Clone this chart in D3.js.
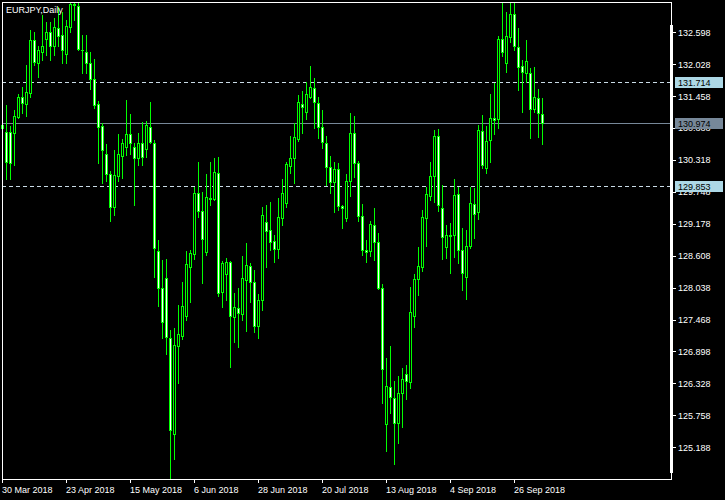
<!DOCTYPE html>
<html><head><meta charset="utf-8">
<script src="https://cdn.jsdelivr.net/npm/d3@7"></script>
<style>html,body{margin:0;padding:0;background:#000;}svg{display:block}</style>
</head><body>
<svg id="c" width="725" height="500"></svg>
<script>
const chartTitle = "EURJPY,Daily";
const firstDate = "2018-03-30";
const opens = [130.889,130.818,130.818,130.800,131.086,131.443,131.318,131.514,132.461,132.050,
132.246,132.478,132.603,132.354,132.675,132.550,132.211,132.693,133.104,133.068,
132.282,132.246,132.050,131.764,131.318,130.925,130.425,130.068,129.479,130.032,
130.389,130.550,130.782,130.550,130.354,130.621,130.514,130.907,130.621,128.693,
128.032,128.211,127.139,125.425,126.996,127.175,127.532,128.407,128.639,129.729,
129.407,128.675,129.639,129.621,130.086,127.961,128.282,128.496,127.514,127.675,
127.568,128.175,128.425,128.139,127.354,127.818,129.211,129.068,128.871,128.729,
129.282,129.550,130.211,130.354,130.693,131.318,131.175,131.443,131.603,131.335,
130.907,130.621,130.193,129.925,130.157,129.496,129.282,129.943,130.800,130.264,
129.318,128.711,128.693,129.157,128.854,128.032,125.604,126.264,126.068,125.621,
126.157,126.496,126.354,127.532,128.193,128.407,129.282,129.675,130.032,130.746,
129.461,128.764,128.979,128.979,129.711,128.711,128.229,128.782,129.532,129.389,
130.836,130.175,130.675,131.068,131.050,132.478,132.050,132.514,132.925,132.336,
131.996,131.871,131.871,131.229,131.425,131.139];
const highs = [131.068,131.300,130.925,131.211,131.497,131.621,132.015,132.639,132.603,132.354,
132.907,132.782,132.782,132.853,133.050,132.960,132.818,133.139,133.139,133.121,
132.550,132.550,132.246,132.121,131.371,130.979,130.604,130.121,130.496,130.782,
130.693,131.389,131.139,130.621,130.800,130.996,131.014,131.354,130.675,128.889,
128.532,128.550,127.282,127.318,127.729,128.139,128.693,128.711,129.836,130.282,
129.746,130.068,130.282,130.354,130.371,128.514,128.568,128.514,127.943,128.032,
128.604,128.836,128.479,128.354,127.925,129.479,129.514,129.568,128.979,129.639,
129.978,130.282,130.746,130.979,131.479,131.550,131.711,131.996,131.782,131.443,
131.211,130.746,130.389,130.282,130.264,129.514,130.068,131.157,131.104,130.300,
129.532,128.889,129.228,129.461,129.014,128.104,126.782,126.996,126.371,126.461,
126.604,126.657,128.050,128.282,128.764,129.425,129.836,130.282,130.854,130.871,
129.871,129.157,129.193,129.978,129.836,129.104,129.068,129.836,129.818,130.943,
131.121,130.925,131.497,131.693,132.532,133.139,132.960,133.121,133.139,132.675,
132.104,132.461,131.961,131.979,131.585,131.425];
const lows = [130.800,129.978,129.978,130.229,131.068,131.157,131.104,131.443,132.015,131.800,
132.104,132.193,132.104,132.193,132.354,132.050,132.050,132.603,132.818,132.282,
131.871,131.871,131.585,131.246,130.264,129.907,129.943,129.228,129.336,129.943,
129.996,130.407,130.425,129.514,130.229,130.229,130.371,130.621,128.229,127.711,
127.139,126.854,124.621,124.979,126.336,127.121,127.461,127.782,128.550,129.300,
128.121,128.621,129.514,129.604,127.889,127.693,127.818,126.621,127.068,126.979,
127.461,127.264,127.782,127.246,127.139,127.639,128.407,128.711,128.496,128.568,
129.157,129.479,130.086,129.907,130.657,130.800,131.050,131.425,130.889,130.711,
130.532,129.871,129.729,129.389,129.425,129.104,129.228,129.675,130.014,129.228,
128.621,128.496,128.604,128.532,128.014,125.979,125.121,125.800,124.889,125.264,
125.550,126.050,126.246,127.336,127.907,128.336,128.782,129.604,129.568,129.407,
128.550,128.568,128.300,128.586,128.479,127.996,127.836,128.746,128.925,129.264,
130.175,130.086,130.282,130.782,130.889,132.175,131.889,132.425,132.282,131.568,
131.175,131.711,130.711,131.175,130.729,130.604];
const closes = [130.943,130.282,130.264,131.104,131.443,131.335,131.532,132.461,132.068,132.282,
132.354,132.603,132.354,132.693,132.532,132.282,132.711,133.104,133.086,132.300,
132.275,132.050,131.764,131.300,130.907,130.496,130.068,129.479,130.050,130.425,
130.621,130.782,130.621,130.354,130.621,130.371,130.943,130.639,128.746,128.032,
127.425,127.157,125.496,127.014,127.211,127.711,128.461,128.657,129.729,129.407,
128.907,129.657,129.621,130.104,127.943,128.479,128.496,127.532,127.693,127.586,
128.211,128.443,128.139,127.354,127.818,129.336,129.050,128.854,128.729,129.300,
129.729,130.246,130.354,130.729,131.354,131.264,131.497,131.621,131.354,130.907,
130.639,130.193,129.925,130.157,129.496,129.461,129.943,130.800,130.264,129.318,
128.711,128.675,129.175,128.854,128.032,126.586,126.282,126.086,125.621,126.157,
126.407,126.371,127.604,128.193,128.425,129.300,129.711,130.032,130.746,129.514,
128.943,128.979,128.961,129.693,128.711,128.300,128.782,129.550,129.354,130.854,
130.229,130.657,131.068,131.032,132.478,132.246,132.532,132.925,132.354,131.979,
131.889,132.086,131.229,131.443,131.157,130.974];
const priceTicks = [125.188,125.758,126.328,126.898,127.468,128.038,128.608,129.178,129.748,130.318,130.888,131.458,132.028,132.598];
const dateTickLabels = ["30 Mar 2018","23 Apr 2018","15 May 2018","6 Jun 2018","28 Jun 2018","20 Jul 2018","13 Aug 2018","4 Sep 2018","26 Sep 2018"];
const levelValues = [131.714, 130.974, 129.853];

const svg = d3.select("#c");
const W = 725, H = 500;
const L = 2, R = 671, T = 2, B = 479;
const FONT = "Liberation Sans, Arial, sans-serif";
svg.append("rect").attr("width", W).attr("height", H).attr("fill", "#000");

// trading days (weekdays) starting at firstDate
const n = opens.length;
const fmtKey = d3.timeFormat("%Y-%m-%d");
const dates = [];
let d = d3.timeParse("%Y-%m-%d")(firstDate);
while (dates.length < n) {
  const wd = d.getDay();
  if (wd !== 0 && wd !== 6) dates.push(fmtKey(d));
  d = d3.timeDay.offset(d, 1);
}
const data = dates.map((k, i) => ({key: k, o: opens[i], h: highs[i], l: lows[i], c: closes[i]}));

const x = d3.scalePoint().domain(dates).range([L, L + 4 * (n - 1)]);
const y = d3.scaleLinear().domain([124.621, 133.139]).range([B, T]);

const g = svg.append("g").attr("shape-rendering", "crispEdges");
const lime = "#00ff00";

// level lines
levelValues.forEach((v, i) => {
  const yy = Math.round(y(v)) + 0.5;
  g.append("line").attr("x1", L).attr("x2", R).attr("y1", yy).attr("y2", yy)
    .attr("stroke", i === 1 ? "#778899" : "#c9dbe6").attr("stroke-width", 1)
    .attr("stroke-dasharray", i === 1 ? null : "4,3");
});

// candles
const cg = g.append("g");
data.forEach(b => {
  const cx = Math.round(x(b.key));
  const yh = Math.round(y(b.h)), yl = Math.round(y(b.l));
  cg.append("rect").attr("x", cx).attr("y", yh).attr("width", 1).attr("height", Math.max(1, yl - yh + 1)).attr("fill", lime);
  const top = Math.round(y(Math.max(b.o, b.c))), bot = Math.round(y(Math.min(b.o, b.c)));
  cg.append("rect").attr("x", cx - 1).attr("y", top).attr("width", 3).attr("height", bot - top + 1).attr("fill", lime);
  if (bot - top >= 2) {
    cg.append("rect").attr("x", cx).attr("y", top + 1).attr("width", 1).attr("height", bot - top - 1)
      .attr("fill", b.c < b.o ? "#ffffff" : "#000000");
  }
});

// frame
g.append("rect").attr("x", L + 0.5).attr("y", T + 0.5).attr("width", R - L).attr("height", B - T)
  .attr("fill", "none").attr("stroke", "#fff").attr("stroke-width", 1);
g.append("rect").attr("x", R - 1).attr("y", 25).attr("width", 3).attr("height", 448).attr("fill", "#fff");

// y axis
const yAxis = d3.axisRight(y).tickValues(priceTicks).tickFormat(d3.format(".3f")).tickSize(4).tickPadding(2);
const ya = svg.append("g").attr("transform", `translate(${R + 1},0)`).call(yAxis);
ya.select(".domain").remove();
ya.selectAll(".tick line").attr("stroke", "#fff").attr("shape-rendering", "crispEdges");
ya.selectAll(".tick text").attr("fill", "#fff").attr("font-family", FONT).attr("font-size", "9px");

// level boxes
levelValues.forEach((v, i) => {
  const yy = Math.round(y(v));
  svg.append("rect").attr("x", 675).attr("y", yy - 5).attr("width", 48).attr("height", 11)
    .attr("fill", i === 1 ? "#778899" : "#add8e6").attr("shape-rendering", "crispEdges");
  svg.append("text").attr("x", 678).attr("y", yy + 3.5).attr("fill", "#000")
    .attr("font-family", FONT).attr("font-size", "9px").text(d3.format(".3f")(v));
});

// x axis ticks and labels
const parseLbl = d3.timeParse("%d %b %Y");
dateTickLabels.forEach(lbl => {
  const k = fmtKey(parseLbl(lbl));
  const cx = Math.round(x(k));
  svg.append("line").attr("x1", cx + 0.5).attr("x2", cx + 0.5).attr("y1", B).attr("y2", B + 4)
    .attr("stroke", "#fff").attr("shape-rendering", "crispEdges");
  svg.append("text").attr("x", cx).attr("y", 493).attr("fill", "#fff")
    .attr("font-family", FONT).attr("font-size", "9px").text(lbl);
});

// title
svg.append("text").attr("x", 6).attr("y", 13).attr("fill", "#fff")
  .attr("font-family", FONT).attr("font-size", "9px").text(chartTitle);
</script>
</body></html>
